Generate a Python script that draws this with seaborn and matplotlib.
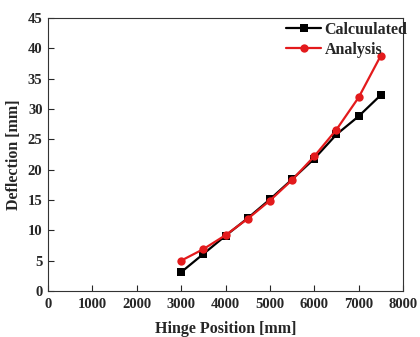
import matplotlib
matplotlib.use("Agg")
import matplotlib.pyplot as plt
import seaborn as sns
import pandas as pd

hinge_position = [3000, 3500, 4000, 4500, 5000, 5500, 6000, 6500, 7000, 7500]
calculated = [3.1, 6.1, 9.1, 12.0, 15.1, 18.4, 21.8, 25.8, 28.8, 32.3]
analysis = [5.0, 6.9, 9.2, 11.9, 14.9, 18.3, 22.2, 26.6, 31.9, 38.8]
series_names = ["Calcuulated", "Analysis"]

df = pd.DataFrame({
    "x": hinge_position * 2,
    "y": calculated + analysis,
    "series": [series_names[0]] * len(hinge_position) + [series_names[1]] * len(hinge_position),
})

sns.set_theme(style="ticks")
plt.rcParams["font.family"] = ["Liberation Serif", "DejaVu Serif"]
plt.rcParams["font.weight"] = "bold"

fig = plt.figure(figsize=(4.2, 3.37), dpi=100)
ax = fig.add_axes([48 / 420, 1 - 291 / 337, 355 / 420, 273 / 337])

sns.lineplot(
    data=df, x="x", y="y", hue="series", style="series",
    palette={series_names[0]: "black", series_names[1]: "#e31a1c"},
    markers={series_names[0]: "s", series_names[1]: "o"},
    dashes=False, markersize=6, linewidth=1.6, markeredgewidth=0,
    ax=ax,
)

ax.set_xlim(0, 8000)
ax.set_ylim(0, 45)
ax.set_xticks(range(0, 8001, 1000))
ax.set_yticks(range(0, 46, 5))
ax.tick_params(direction="in", length=4, width=0.8, labelsize=10.5, pad=4)
ax.tick_params(axis="x", pad=5)
for lbl in ax.get_xticklabels() + ax.get_yticklabels():
    lbl.set_fontweight("bold")
for s in ax.spines.values():
    s.set_linewidth(0.8)
    s.set_color("#333333")

ax.set_xlabel("Hinge Position [mm]", fontsize=11.5, fontweight="bold", labelpad=7)
ax.set_ylabel("Deflection [mm]", fontsize=11.5, fontweight="bold", labelpad=4)

leg = ax.legend(
    loc="upper right", frameon=False, fontsize=11.5, handlelength=2.2,
    handletextpad=0.2, borderaxespad=0.0, labelspacing=0.25,
    bbox_to_anchor=(1.03, 1.01),
)
for t in leg.get_texts():
    t.set_fontweight("bold")

fig.savefig("out.png", dpi=100)
